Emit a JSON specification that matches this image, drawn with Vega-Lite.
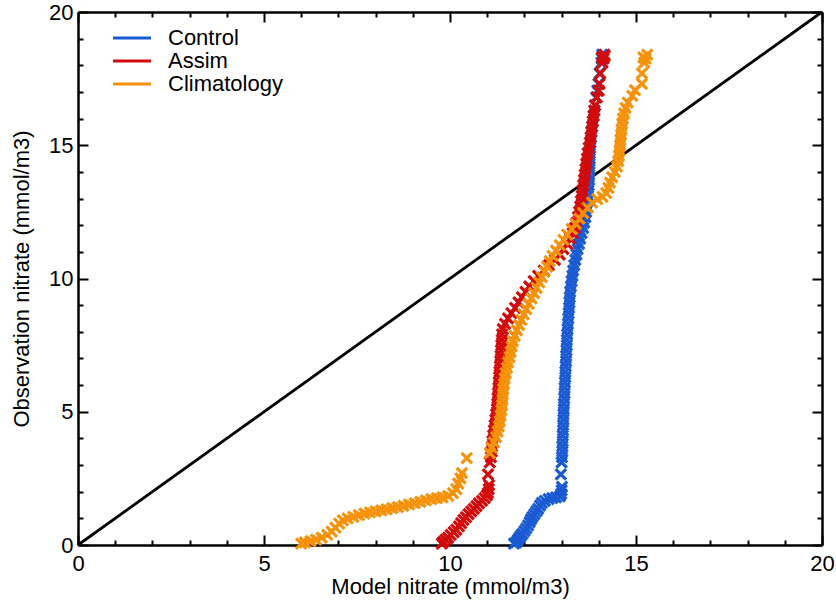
{
  "$schema": "https://vega.github.io/schema/vega-lite/v6.json",
  "width": 744,
  "height": 533,
  "autosize": {"type": "none"},
  "padding": {"left": 78, "top": 12, "right": 14, "bottom": 60},
  "background": "white",
  "config": {
    "view": {"stroke": null},
    "axis": {
      "grid": false,
      "domainColor": "black",
      "domainWidth": 2.5,
      "tickColor": "black",
      "tickWidth": 2,
      "labelFont": "Liberation Sans",
      "labelFontSize": 22,
      "labelColor": "black",
      "titleFont": "Liberation Sans",
      "titleFontSize": 22,
      "titleFontWeight": "normal",
      "titleColor": "black",
      "labelFlush": false,
      "labelOverlap": false
    },
    "legend": {
      "labelFont": "Liberation Sans",
      "labelFontSize": 22,
      "labelColor": "black"
    }
  },
  "datasets": {
    "diag": [{"model": 0, "obs": 0}, {"model": 20, "obs": 20}],
    "qq": [
      {"series": "Control", "model": 11.72, "obs": 0.05},
      {"series": "Control", "model": 11.78, "obs": 0.1},
      {"series": "Control", "model": 11.82, "obs": 0.18},
      {"series": "Control", "model": 11.86, "obs": 0.26},
      {"series": "Control", "model": 11.9, "obs": 0.34},
      {"series": "Control", "model": 11.95, "obs": 0.42},
      {"series": "Control", "model": 12.0, "obs": 0.52},
      {"series": "Control", "model": 12.05, "obs": 0.62},
      {"series": "Control", "model": 12.1, "obs": 0.74},
      {"series": "Control", "model": 12.14, "obs": 0.86},
      {"series": "Control", "model": 12.18, "obs": 0.96},
      {"series": "Control", "model": 12.22, "obs": 1.06},
      {"series": "Control", "model": 12.27, "obs": 1.16},
      {"series": "Control", "model": 12.32, "obs": 1.26},
      {"series": "Control", "model": 12.37, "obs": 1.36},
      {"series": "Control", "model": 12.42, "obs": 1.48},
      {"series": "Control", "model": 12.47, "obs": 1.58},
      {"series": "Control", "model": 12.55, "obs": 1.66},
      {"series": "Control", "model": 12.65, "obs": 1.72},
      {"series": "Control", "model": 12.75, "obs": 1.76},
      {"series": "Control", "model": 12.85, "obs": 1.79},
      {"series": "Control", "model": 12.95, "obs": 1.82},
      {"series": "Control", "model": 12.99, "obs": 1.92},
      {"series": "Control", "model": 13.0, "obs": 2.05},
      {"series": "Control", "model": 13.01, "obs": 2.18},
      {"series": "Control", "model": 12.98, "obs": 2.65},
      {"series": "Control", "model": 13.0, "obs": 3.1},
      {"series": "Control", "model": 13.01, "obs": 3.3},
      {"series": "Control", "model": 13.02, "obs": 3.5},
      {"series": "Control", "model": 13.02, "obs": 3.7},
      {"series": "Control", "model": 13.03, "obs": 3.9},
      {"series": "Control", "model": 13.03, "obs": 4.1},
      {"series": "Control", "model": 13.04, "obs": 4.3},
      {"series": "Control", "model": 13.04, "obs": 4.5},
      {"series": "Control", "model": 13.05, "obs": 4.7},
      {"series": "Control", "model": 13.05, "obs": 4.9},
      {"series": "Control", "model": 13.06, "obs": 5.1},
      {"series": "Control", "model": 13.06, "obs": 5.3},
      {"series": "Control", "model": 13.07, "obs": 5.5},
      {"series": "Control", "model": 13.08, "obs": 5.7},
      {"series": "Control", "model": 13.08, "obs": 5.9},
      {"series": "Control", "model": 13.09, "obs": 6.1},
      {"series": "Control", "model": 13.1, "obs": 6.3},
      {"series": "Control", "model": 13.1, "obs": 6.5},
      {"series": "Control", "model": 13.11, "obs": 6.7},
      {"series": "Control", "model": 13.12, "obs": 6.9},
      {"series": "Control", "model": 13.12, "obs": 7.1},
      {"series": "Control", "model": 13.13, "obs": 7.3},
      {"series": "Control", "model": 13.14, "obs": 7.5},
      {"series": "Control", "model": 13.14, "obs": 7.7},
      {"series": "Control", "model": 13.15, "obs": 7.9},
      {"series": "Control", "model": 13.16, "obs": 8.1},
      {"series": "Control", "model": 13.17, "obs": 8.3},
      {"series": "Control", "model": 13.18, "obs": 8.5},
      {"series": "Control", "model": 13.19, "obs": 8.7},
      {"series": "Control", "model": 13.2, "obs": 8.9},
      {"series": "Control", "model": 13.21, "obs": 9.1},
      {"series": "Control", "model": 13.22, "obs": 9.3},
      {"series": "Control", "model": 13.23, "obs": 9.5},
      {"series": "Control", "model": 13.25, "obs": 9.7},
      {"series": "Control", "model": 13.27, "obs": 9.9},
      {"series": "Control", "model": 13.29, "obs": 10.1},
      {"series": "Control", "model": 13.31, "obs": 10.3},
      {"series": "Control", "model": 13.34, "obs": 10.5},
      {"series": "Control", "model": 13.37, "obs": 10.7},
      {"series": "Control", "model": 13.4, "obs": 10.9},
      {"series": "Control", "model": 13.43, "obs": 11.1},
      {"series": "Control", "model": 13.47, "obs": 11.3},
      {"series": "Control", "model": 13.5, "obs": 11.5},
      {"series": "Control", "model": 13.54, "obs": 11.7},
      {"series": "Control", "model": 13.58, "obs": 11.9},
      {"series": "Control", "model": 13.61, "obs": 12.1},
      {"series": "Control", "model": 13.64, "obs": 12.3},
      {"series": "Control", "model": 13.66, "obs": 12.5},
      {"series": "Control", "model": 13.68, "obs": 12.7},
      {"series": "Control", "model": 13.7, "obs": 12.9},
      {"series": "Control", "model": 13.71, "obs": 13.1},
      {"series": "Control", "model": 13.72, "obs": 13.3},
      {"series": "Control", "model": 13.73, "obs": 13.5},
      {"series": "Control", "model": 13.74, "obs": 13.7},
      {"series": "Control", "model": 13.74, "obs": 13.9},
      {"series": "Control", "model": 13.75, "obs": 14.1},
      {"series": "Control", "model": 13.75, "obs": 14.3},
      {"series": "Control", "model": 13.76, "obs": 14.5},
      {"series": "Control", "model": 13.76, "obs": 14.7},
      {"series": "Control", "model": 13.77, "obs": 14.9},
      {"series": "Control", "model": 13.78, "obs": 15.1},
      {"series": "Control", "model": 13.79, "obs": 15.3},
      {"series": "Control", "model": 13.8, "obs": 15.5},
      {"series": "Control", "model": 13.82, "obs": 15.7},
      {"series": "Control", "model": 13.84, "obs": 15.9},
      {"series": "Control", "model": 13.86, "obs": 16.1},
      {"series": "Control", "model": 13.88, "obs": 16.3},
      {"series": "Control", "model": 13.9, "obs": 16.5},
      {"series": "Control", "model": 13.93, "obs": 16.8},
      {"series": "Control", "model": 13.96, "obs": 17.05},
      {"series": "Control", "model": 13.99, "obs": 17.3},
      {"series": "Control", "model": 14.02, "obs": 17.7},
      {"series": "Control", "model": 14.07, "obs": 18.1},
      {"series": "Control", "model": 14.08, "obs": 18.25},
      {"series": "Control", "model": 14.09, "obs": 18.4},

      {"series": "Assim", "model": 9.78, "obs": 0.05},
      {"series": "Assim", "model": 9.82, "obs": 0.12},
      {"series": "Assim", "model": 9.88, "obs": 0.2},
      {"series": "Assim", "model": 9.95, "obs": 0.28},
      {"series": "Assim", "model": 10.02, "obs": 0.38},
      {"series": "Assim", "model": 10.1, "obs": 0.48},
      {"series": "Assim", "model": 10.17, "obs": 0.58},
      {"series": "Assim", "model": 10.24, "obs": 0.7},
      {"series": "Assim", "model": 10.3, "obs": 0.82},
      {"series": "Assim", "model": 10.36, "obs": 0.94},
      {"series": "Assim", "model": 10.43, "obs": 1.05},
      {"series": "Assim", "model": 10.5, "obs": 1.16},
      {"series": "Assim", "model": 10.57, "obs": 1.26},
      {"series": "Assim", "model": 10.64, "obs": 1.36},
      {"series": "Assim", "model": 10.71, "obs": 1.46},
      {"series": "Assim", "model": 10.78, "obs": 1.56},
      {"series": "Assim", "model": 10.86, "obs": 1.66},
      {"series": "Assim", "model": 10.93, "obs": 1.76},
      {"series": "Assim", "model": 10.99, "obs": 1.86},
      {"series": "Assim", "model": 11.02, "obs": 1.96},
      {"series": "Assim", "model": 11.04, "obs": 2.1},
      {"series": "Assim", "model": 11.05, "obs": 2.25},
      {"series": "Assim", "model": 11.02, "obs": 2.65},
      {"series": "Assim", "model": 11.07, "obs": 3.1},
      {"series": "Assim", "model": 11.1, "obs": 3.3},
      {"series": "Assim", "model": 11.12, "obs": 3.5},
      {"series": "Assim", "model": 11.13, "obs": 3.7},
      {"series": "Assim", "model": 11.14, "obs": 3.9},
      {"series": "Assim", "model": 11.16, "obs": 4.1},
      {"series": "Assim", "model": 11.18, "obs": 4.3},
      {"series": "Assim", "model": 11.2, "obs": 4.5},
      {"series": "Assim", "model": 11.22, "obs": 4.7},
      {"series": "Assim", "model": 11.24, "obs": 4.9},
      {"series": "Assim", "model": 11.26, "obs": 5.1},
      {"series": "Assim", "model": 11.27, "obs": 5.3},
      {"series": "Assim", "model": 11.28, "obs": 5.5},
      {"series": "Assim", "model": 11.29, "obs": 5.7},
      {"series": "Assim", "model": 11.3, "obs": 5.9},
      {"series": "Assim", "model": 11.31, "obs": 6.1},
      {"series": "Assim", "model": 11.32, "obs": 6.3},
      {"series": "Assim", "model": 11.33, "obs": 6.5},
      {"series": "Assim", "model": 11.34, "obs": 6.7},
      {"series": "Assim", "model": 11.35, "obs": 6.9},
      {"series": "Assim", "model": 11.36, "obs": 7.1},
      {"series": "Assim", "model": 11.37, "obs": 7.3},
      {"series": "Assim", "model": 11.38, "obs": 7.5},
      {"series": "Assim", "model": 11.39, "obs": 7.7},
      {"series": "Assim", "model": 11.4, "obs": 7.9},
      {"series": "Assim", "model": 11.42, "obs": 8.1},
      {"series": "Assim", "model": 11.48, "obs": 8.3},
      {"series": "Assim", "model": 11.56, "obs": 8.5},
      {"series": "Assim", "model": 11.65, "obs": 8.7},
      {"series": "Assim", "model": 11.75, "obs": 8.9},
      {"series": "Assim", "model": 11.84, "obs": 9.1},
      {"series": "Assim", "model": 11.93, "obs": 9.3},
      {"series": "Assim", "model": 12.03, "obs": 9.5},
      {"series": "Assim", "model": 12.13, "obs": 9.7},
      {"series": "Assim", "model": 12.25, "obs": 9.9},
      {"series": "Assim", "model": 12.37, "obs": 10.1},
      {"series": "Assim", "model": 12.52, "obs": 10.3},
      {"series": "Assim", "model": 12.66, "obs": 10.5},
      {"series": "Assim", "model": 12.82, "obs": 10.7},
      {"series": "Assim", "model": 12.95, "obs": 10.9},
      {"series": "Assim", "model": 13.05, "obs": 11.1},
      {"series": "Assim", "model": 13.15, "obs": 11.3},
      {"series": "Assim", "model": 13.23, "obs": 11.5},
      {"series": "Assim", "model": 13.3, "obs": 11.7},
      {"series": "Assim", "model": 13.36, "obs": 11.9},
      {"series": "Assim", "model": 13.4, "obs": 12.1},
      {"series": "Assim", "model": 13.44, "obs": 12.3},
      {"series": "Assim", "model": 13.47, "obs": 12.5},
      {"series": "Assim", "model": 13.5, "obs": 12.7},
      {"series": "Assim", "model": 13.52, "obs": 12.9},
      {"series": "Assim", "model": 13.54, "obs": 13.1},
      {"series": "Assim", "model": 13.56, "obs": 13.3},
      {"series": "Assim", "model": 13.58, "obs": 13.5},
      {"series": "Assim", "model": 13.6, "obs": 13.7},
      {"series": "Assim", "model": 13.62, "obs": 13.9},
      {"series": "Assim", "model": 13.64, "obs": 14.1},
      {"series": "Assim", "model": 13.66, "obs": 14.3},
      {"series": "Assim", "model": 13.68, "obs": 14.5},
      {"series": "Assim", "model": 13.7, "obs": 14.7},
      {"series": "Assim", "model": 13.73, "obs": 14.9},
      {"series": "Assim", "model": 13.76, "obs": 15.1},
      {"series": "Assim", "model": 13.78, "obs": 15.3},
      {"series": "Assim", "model": 13.8, "obs": 15.5},
      {"series": "Assim", "model": 13.82, "obs": 15.7},
      {"series": "Assim", "model": 13.84, "obs": 15.9},
      {"series": "Assim", "model": 13.86, "obs": 16.1},
      {"series": "Assim", "model": 13.88, "obs": 16.3},
      {"series": "Assim", "model": 13.9, "obs": 16.5},
      {"series": "Assim", "model": 13.95, "obs": 16.8},
      {"series": "Assim", "model": 14.0, "obs": 17.05},
      {"series": "Assim", "model": 14.02, "obs": 17.3},
      {"series": "Assim", "model": 14.04, "obs": 17.7},
      {"series": "Assim", "model": 14.1, "obs": 18.1},
      {"series": "Assim", "model": 14.08, "obs": 18.3},
      {"series": "Assim", "model": 14.13, "obs": 18.25},
      {"series": "Assim", "model": 14.16, "obs": 18.35},
      {"series": "Assim", "model": 14.15, "obs": 18.4},

      {"series": "Climatology", "model": 6.0, "obs": 0.05},
      {"series": "Climatology", "model": 6.1, "obs": 0.1},
      {"series": "Climatology", "model": 6.25, "obs": 0.15},
      {"series": "Climatology", "model": 6.4, "obs": 0.2},
      {"series": "Climatology", "model": 6.55, "obs": 0.28},
      {"series": "Climatology", "model": 6.7, "obs": 0.38},
      {"series": "Climatology", "model": 6.82, "obs": 0.5},
      {"series": "Climatology", "model": 6.92, "obs": 0.65},
      {"series": "Climatology", "model": 7.02, "obs": 0.8},
      {"series": "Climatology", "model": 7.12, "obs": 0.92},
      {"series": "Climatology", "model": 7.25, "obs": 1.0},
      {"series": "Climatology", "model": 7.4, "obs": 1.06},
      {"series": "Climatology", "model": 7.55, "obs": 1.12},
      {"series": "Climatology", "model": 7.7, "obs": 1.18},
      {"series": "Climatology", "model": 7.85, "obs": 1.22},
      {"series": "Climatology", "model": 8.0, "obs": 1.26},
      {"series": "Climatology", "model": 8.15, "obs": 1.3},
      {"series": "Climatology", "model": 8.3, "obs": 1.34},
      {"series": "Climatology", "model": 8.45, "obs": 1.38},
      {"series": "Climatology", "model": 8.6, "obs": 1.42},
      {"series": "Climatology", "model": 8.75, "obs": 1.47},
      {"series": "Climatology", "model": 8.9, "obs": 1.52},
      {"series": "Climatology", "model": 9.05, "obs": 1.57},
      {"series": "Climatology", "model": 9.2, "obs": 1.62},
      {"series": "Climatology", "model": 9.35, "obs": 1.67},
      {"series": "Climatology", "model": 9.5, "obs": 1.72},
      {"series": "Climatology", "model": 9.65, "obs": 1.76},
      {"series": "Climatology", "model": 9.8, "obs": 1.79},
      {"series": "Climatology", "model": 9.95, "obs": 1.84},
      {"series": "Climatology", "model": 10.08, "obs": 1.95},
      {"series": "Climatology", "model": 10.17, "obs": 2.1},
      {"series": "Climatology", "model": 10.22, "obs": 2.3},
      {"series": "Climatology", "model": 10.28, "obs": 2.5},
      {"series": "Climatology", "model": 10.32, "obs": 2.7},
      {"series": "Climatology", "model": 10.45, "obs": 3.26},
      {"series": "Climatology", "model": 11.07, "obs": 3.45},
      {"series": "Climatology", "model": 11.12, "obs": 3.65},
      {"series": "Climatology", "model": 11.18, "obs": 3.85},
      {"series": "Climatology", "model": 11.24, "obs": 4.05},
      {"series": "Climatology", "model": 11.28, "obs": 4.25},
      {"series": "Climatology", "model": 11.31, "obs": 4.45},
      {"series": "Climatology", "model": 11.34, "obs": 4.65},
      {"series": "Climatology", "model": 11.36, "obs": 4.85},
      {"series": "Climatology", "model": 11.38, "obs": 5.05},
      {"series": "Climatology", "model": 11.4, "obs": 5.25},
      {"series": "Climatology", "model": 11.41, "obs": 5.45},
      {"series": "Climatology", "model": 11.42, "obs": 5.65},
      {"series": "Climatology", "model": 11.43, "obs": 5.85},
      {"series": "Climatology", "model": 11.45, "obs": 6.05},
      {"series": "Climatology", "model": 11.47, "obs": 6.25},
      {"series": "Climatology", "model": 11.5, "obs": 6.45},
      {"series": "Climatology", "model": 11.53, "obs": 6.65},
      {"series": "Climatology", "model": 11.56, "obs": 6.85},
      {"series": "Climatology", "model": 11.6, "obs": 7.05},
      {"series": "Climatology", "model": 11.63, "obs": 7.25},
      {"series": "Climatology", "model": 11.66, "obs": 7.45},
      {"series": "Climatology", "model": 11.69, "obs": 7.65},
      {"series": "Climatology", "model": 11.74, "obs": 7.85},
      {"series": "Climatology", "model": 11.8, "obs": 8.05},
      {"series": "Climatology", "model": 11.86, "obs": 8.25},
      {"series": "Climatology", "model": 11.92, "obs": 8.45},
      {"series": "Climatology", "model": 11.98, "obs": 8.65},
      {"series": "Climatology", "model": 12.05, "obs": 8.85},
      {"series": "Climatology", "model": 12.12, "obs": 9.05},
      {"series": "Climatology", "model": 12.19, "obs": 9.25},
      {"series": "Climatology", "model": 12.26, "obs": 9.45},
      {"series": "Climatology", "model": 12.33, "obs": 9.65},
      {"series": "Climatology", "model": 12.4, "obs": 9.85},
      {"series": "Climatology", "model": 12.47, "obs": 10.05},
      {"series": "Climatology", "model": 12.54, "obs": 10.25},
      {"series": "Climatology", "model": 12.61, "obs": 10.45},
      {"series": "Climatology", "model": 12.68, "obs": 10.65},
      {"series": "Climatology", "model": 12.76, "obs": 10.85},
      {"series": "Climatology", "model": 12.85, "obs": 11.05},
      {"series": "Climatology", "model": 12.95, "obs": 11.25},
      {"series": "Climatology", "model": 13.05, "obs": 11.45},
      {"series": "Climatology", "model": 13.15, "obs": 11.65},
      {"series": "Climatology", "model": 13.27, "obs": 11.85},
      {"series": "Climatology", "model": 13.38, "obs": 12.05},
      {"series": "Climatology", "model": 13.48, "obs": 12.25},
      {"series": "Climatology", "model": 13.58, "obs": 12.45},
      {"series": "Climatology", "model": 13.7, "obs": 12.65},
      {"series": "Climatology", "model": 13.82, "obs": 12.85},
      {"series": "Climatology", "model": 13.96, "obs": 12.98},
      {"series": "Climatology", "model": 14.1, "obs": 13.06},
      {"series": "Climatology", "model": 14.2, "obs": 13.2},
      {"series": "Climatology", "model": 14.26, "obs": 13.4},
      {"series": "Climatology", "model": 14.3, "obs": 13.6},
      {"series": "Climatology", "model": 14.36, "obs": 13.8},
      {"series": "Climatology", "model": 14.43, "obs": 14.0},
      {"series": "Climatology", "model": 14.49, "obs": 14.2},
      {"series": "Climatology", "model": 14.52, "obs": 14.4},
      {"series": "Climatology", "model": 14.54, "obs": 14.6},
      {"series": "Climatology", "model": 14.56, "obs": 14.8},
      {"series": "Climatology", "model": 14.57, "obs": 15.0},
      {"series": "Climatology", "model": 14.58, "obs": 15.2},
      {"series": "Climatology", "model": 14.6, "obs": 15.4},
      {"series": "Climatology", "model": 14.61, "obs": 15.6},
      {"series": "Climatology", "model": 14.63, "obs": 15.8},
      {"series": "Climatology", "model": 14.65, "obs": 16.0},
      {"series": "Climatology", "model": 14.68, "obs": 16.2},
      {"series": "Climatology", "model": 14.72, "obs": 16.4},
      {"series": "Climatology", "model": 14.78, "obs": 16.6},
      {"series": "Climatology", "model": 14.9, "obs": 16.85},
      {"series": "Climatology", "model": 14.97, "obs": 17.07},
      {"series": "Climatology", "model": 15.16, "obs": 17.3},
      {"series": "Climatology", "model": 15.16, "obs": 17.7},
      {"series": "Climatology", "model": 15.22, "obs": 18.1},
      {"series": "Climatology", "model": 15.2, "obs": 18.3},
      {"series": "Climatology", "model": 15.26, "obs": 18.25},
      {"series": "Climatology", "model": 15.3, "obs": 18.4}
    ]
  },
  "layer": [
    {
      "data": {"name": "diag"},
      "mark": {"type": "line", "strokeOpacity": 0},
      "encoding": {
        "x": {"field": "model", "type": "quantitative", "scale": {"domain": [0, 20], "nice": false, "zero": false},
              "axis": {"orient": "bottom", "values": [1,2,3,4,6,7,8,9,11,12,13,14,16,17,18,19], "tickSize": -5, "labels": false, "domain": false, "title": null}},
        "y": {"field": "obs", "type": "quantitative", "scale": {"domain": [0, 20], "nice": false, "zero": false},
              "axis": {"orient": "left", "values": [1,2,3,4,6,7,8,9,11,12,13,14,16,17,18,19], "tickSize": -5, "labels": false, "domain": false, "title": null}}
      }
    },
    {
      "data": {"name": "diag"},
      "mark": {"type": "line", "strokeOpacity": 0},
      "encoding": {
        "x": {"field": "model", "type": "quantitative",
              "axis": {"orient": "top", "values": [1,2,3,4,6,7,8,9,11,12,13,14,16,17,18,19], "tickSize": -5, "labels": false, "domain": false, "title": null}},
        "y": {"field": "obs", "type": "quantitative",
              "axis": {"orient": "right", "values": [1,2,3,4,6,7,8,9,11,12,13,14,16,17,18,19], "tickSize": -5, "labels": false, "domain": false, "title": null}}
      }
    },
    {
      "data": {"name": "diag"},
      "mark": {"type": "line", "color": "black", "strokeWidth": 2.8},
      "encoding": {
        "x": {"field": "model", "type": "quantitative",
              "axis": {"orient": "top", "values": [0,5,10,15,20], "tickSize": -10, "labels": false, "domain": true, "title": null}},
        "y": {"field": "obs", "type": "quantitative",
              "axis": {"orient": "right", "values": [0,5,10,15,20], "tickSize": -10, "labels": false, "domain": true, "title": null}}
      }
    },
    {
      "data": {"name": "qq"},
      "mark": {"type": "point", "shape": "M-1,-1L1,1M-1,1L1,-1", "filled": false, "size": 110, "strokeWidth": 3.2, "opacity": 1},
      "encoding": {
        "x": {"field": "model", "type": "quantitative",
              "axis": {"orient": "bottom", "values": [0,5,10,15,20], "tickSize": -10, "labelPadding": 18, "domain": true, "title": "Model nitrate (mmol/m3)", "titlePadding": 2}},
        "y": {"field": "obs", "type": "quantitative",
              "axis": {"orient": "left", "values": [0,5,10,15,20], "tickSize": -10, "labelPadding": 15, "domain": true, "title": "Observation nitrate (mmol/m3)", "titlePadding": 15}},
        "color": {"field": "series", "type": "nominal",
                  "scale": {"domain": ["Control", "Assim", "Climatology"], "range": ["#1a5ad2", "#d20a0a", "#f5920a"]},
                  "legend": {"title": null, "orient": "none", "legendX": 43, "legendY": 15,
                             "symbolType": "M-2,0H2", "symbolSize": 361, "symbolStrokeWidth": 3,
                             "symbolOffset": 0, "labelOffset": 25, "rowPadding": 1}}
      }
    }
  ],
  "resolve": {"axis": {"x": "independent", "y": "independent"}}
}
